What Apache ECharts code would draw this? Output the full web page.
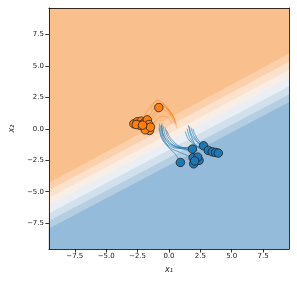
<!DOCTYPE html>
<html>
<head>
<meta charset="utf-8">
<script src="https://cdn.jsdelivr.net/npm/echarts@6/dist/echarts.min.js"></script>
<style>html,body{margin:0;padding:0;background:#fff;}#c{width:297px;height:287px;}</style>
</head>
<body>
<div id="c"></div>
<script>
// ---- data ----
const xExtent = [-9.56, 9.56];
const yExtent = [-9.55, 9.6];
const tickValues = [-7.5, -5.0, -2.5, 0.0, 2.5, 5.0, 7.5];
// contour boundary heights (x2) at the left and right edges of the plot
const boundaryLeft  = [-4.3, -4.9, -5.5, -6.1, -6.75, -7.35, -7.95];
const boundaryRight = [5.95, 5.3, 4.65, 4.0, 3.35, 2.7, 2.1];
const bandColors = ['#f9bf8d', '#fbd0ab', '#fce1cc', '#f9eee6', '#e9eff4', '#d0e0ec', '#b5cee2', '#94bcda'];

const orangePoints = [
  [-2.79, 0.40], [-2.52, 0.56], [-2.21, 0.61], [-2.00, 0.45], [-1.73, 0.71],
  [-1.60, 0.34], [-1.92, 0.13], [-1.55, -0.13], [-1.89, -0.08], [-2.32, 0.29],
  [-1.47, 0.13], [-2.60, 0.34], [-2.10, 0.29], [-0.81, 1.69]
];
const bluePoints = [
  [2.76, -1.35], [3.13, -1.72], [3.45, -1.83], [3.71, -1.88], [3.93, -1.93],
  [1.87, -1.61], [0.91, -2.67], [1.97, -2.78], [1.92, -2.30], [2.40, -2.51],
  [2.29, -2.25], [2.05, -2.55]
];
const orangePaths = [
  [[-1.60, 0.34], [-1.3, 0.8], [-0.9, 1.3], [-0.4, 1.5], [0.1, 1.1], [0.45, 0.4]],
  [[-1.73, 0.71], [-1.4, 1.3], [-1.0, 1.9], [-0.5, 2.0], [0.1, 1.4], [0.5, 0.7]],
  [[-1.47, 0.13], [-1.1, 0.6], [-0.6, 1.0], [-0.1, 0.9], [0.25, 0.4]],
  [[-1.47, 1.51], [-0.94, 2.3], [-0.28, 1.77], [0.38, 0.71], [0.65, 0.05]],
  [[-2.21, 0.61], [-1.8, 1.3], [-1.3, 2.0], [-0.9, 2.25], [-0.4, 1.95], [0.2, 1.2], [0.55, 0.5]],
  [[-1.33, 0.98], [-0.9, 1.6], [-0.4, 1.75], [0.1, 1.3], [0.4, 0.85]],
  [[-0.81, 1.69], [-0.55, 1.95], [-0.1, 1.6], [0.35, 0.95], [0.6, 0.3]]
];
const bluePaths = [
  [[-0.75, 0.40], [-0.65, -0.4], [-0.3, -1.1], [0.4, -1.5], [1.87, -1.61]],
  [[-0.60, 0.30], [-0.45, -0.5], [0.0, -1.2], [0.9, -1.5], [2.2, -1.45]],
  [[-0.45, 0.20], [-0.3, -0.5], [0.2, -1.2], [1.0, -1.5], [2.76, -1.35]],
  [[-0.30, 0.10], [-0.1, -0.6], [0.4, -1.2], [1.3, -1.6], [2.3, -1.7]],
  [[-0.80, 0.10], [-0.6, -0.7], [-0.1, -1.4], [0.7, -1.8], [1.92, -2.30]],
  [[-0.20, -0.10], [0.1, -0.7], [0.7, -1.3], [1.4, -1.6], [2.0, -1.9]],
  [[-0.55, 0.45], [-0.5, -0.3], [-0.1, -1.0], [0.6, -1.45], [1.5, -1.7]],
  [[-0.65, 0.25], [-0.5, -0.6], [0.0, -1.5], [0.5, -2.0], [0.91, -2.67]],
  [[1.60, 0.20], [1.8, -0.5], [2.2, -1.0], [2.76, -1.35]],
  [[1.75, 0.10], [2.0, -0.6], [2.5, -1.3], [3.13, -1.72]],
  [[1.90, 0.00], [2.2, -0.7], [2.8, -1.4], [3.45, -1.83]],
  [[1.45, 0.00], [1.7, -0.8], [2.4, -1.5], [3.71, -1.88]],
  [[1.30, -0.20], [1.6, -0.9], [2.6, -1.6], [3.93, -1.93]],
  [[1.55, 0.30], [1.7, -0.4], [2.0, -1.1], [2.4, -1.6]]
];

// ---- chart ----
const FONT = 'DejaVu Sans';
const fmt = v => (v < 0 ? '\u2212' : '') + Math.abs(v).toFixed(1);

const series = [];
boundaryLeft.forEach((yl, i) => {
  series.push({
    type: 'line', z: 1, silent: true, showSymbol: false, symbol: 'none',
    data: [[xExtent[0], yl], [xExtent[1], boundaryRight[i]]],
    lineStyle: { width: 0.6, color: bandColors[i + 1] },
    areaStyle: { origin: 'start', color: bandColors[i + 1], opacity: 1 }
  });
});
orangePaths.forEach(p => series.push({
  type: 'line', z: 3, silent: true, showSymbol: false, symbol: 'none', smooth: 0.3,
  data: p, lineStyle: { width: 0.8, color: '#ff7f0e', opacity: 0.5 }
}));
bluePaths.forEach(p => series.push({
  type: 'line', z: 3, silent: true, showSymbol: false, symbol: 'none', smooth: 0.3,
  data: p, lineStyle: { width: 0.9, color: '#1f77b4', opacity: 0.7 }
}));
series.push({
  type: 'scatter', z: 5, symbolSize: 8.5, data: orangePoints,
  itemStyle: { color: '#ff7f0e', borderColor: '#222', borderWidth: 0.8, opacity: 1 }
});
series.push({
  type: 'scatter', z: 5, symbolSize: 8.5, data: bluePoints,
  itemStyle: { color: '#1f77b4', borderColor: '#222', borderWidth: 0.8, opacity: 1 }
});

const frameAxis = (extra) => Object.assign({
  type: 'value', z: 10,
  axisLine: { show: true, onZero: false, lineStyle: { color: '#000', width: 0.8 } },
  axisTick: { show: false }, axisLabel: { show: false }, splitLine: { show: false }
}, extra);

const chart = echarts.init(document.getElementById('c'), null, { renderer: 'canvas' });
chart.setOption({
  animation: false,
  backgroundColor: '#fff',
  grid: { left: 48, right: 8, top: 8, bottom: 38, show: true, backgroundColor: bandColors[0], borderWidth: 0 },
  xAxis: [{
    type: 'value', min: xExtent[0], max: xExtent[1], z: 10, position: 'bottom',
    name: 'x\u2081', nameLocation: 'middle', nameGap: 17,
    nameTextStyle: { fontFamily: FONT, fontSize: 8, color: '#222', fontStyle: 'italic' },
    axisLine: { show: true, onZero: false, lineStyle: { color: '#000', width: 0.8 } },
    axisTick: { show: true, length: 3.5, customValues: tickValues, lineStyle: { color: '#000', width: 0.8 } },
    axisLabel: { customValues: tickValues, formatter: fmt, fontFamily: FONT, fontSize: 7, color: '#222', margin: 4 },
    splitLine: { show: false }
  }, frameAxis({ min: xExtent[0], max: xExtent[1], position: 'top' })],
  yAxis: [{
    type: 'value', min: yExtent[0], max: yExtent[1], z: 10, position: 'left',
    name: 'x\u2082', nameLocation: 'middle', nameGap: 32, nameRotate: 90,
    nameTextStyle: { fontFamily: FONT, fontSize: 8, color: '#222', fontStyle: 'italic' },
    axisLine: { show: true, onZero: false, lineStyle: { color: '#000', width: 0.8 } },
    axisTick: { show: true, length: 3.5, customValues: tickValues, lineStyle: { color: '#000', width: 0.8 } },
    axisLabel: { customValues: tickValues, formatter: fmt, fontFamily: FONT, fontSize: 7, color: '#222', margin: 5 },
    splitLine: { show: false }
  }, frameAxis({ min: yExtent[0], max: yExtent[1], position: 'right' })],
  series: series
});
</script>
</body>
</html>
